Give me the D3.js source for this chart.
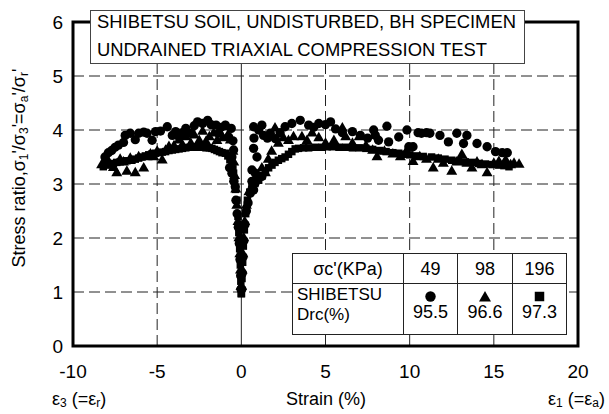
<!DOCTYPE html>
<html>
<head>
<meta charset="utf-8">
<script src="https://cdn.jsdelivr.net/npm/d3@7"></script>
<style>
  body { margin: 0; background: #fff; }
  svg { display: block; font-family: "Liberation Sans", Arial, sans-serif; }
</style>
</head>
<body>
<div id="chart"></div>
<script>
// tick values
const xTicks = [-10, -5, 0, 5, 10, 15, 20];
const yTicks = [0, 1, 2, 3, 4, 5, 6];

// legend table values
const confining = ['49', '98', '196'];
const density = ['95.5', '96.6', '97.3'];
const symbols = ['circle', 'triangle', 'square'];

// sigma_c' = 49 kPa (circles), [strain %, stress ratio]
const circle49 = [
  [-8.1,3.5],[-7.9,3.58],[-7.7,3.62],[-7.5,3.68],[-7.3,3.72],[-7.0,3.77],[-6.9,3.9],[-6.6,3.94],
  [-6.3,3.82],[-6.1,3.94],[-5.8,3.96],[-5.6,3.94],[-5.3,3.81],[-5.1,3.97],[-4.8,3.98],[-4.4,4.06],
  [-4.1,3.9],[-3.9,3.97],[-3.7,3.87],[-3.5,3.95],[-3.3,4.03],[-3.0,3.94],[-2.8,4.08],[-2.6,4.15],
  [-2.3,4.12],[-2.0,4.18],[-1.8,4.1],[-1.5,4.09],[-1.35,3.94],[-1.2,4.05],[-0.95,4.09],[-0.75,3.87],
  [-0.6,4.03],[-0.5,3.8],[-0.46,3.63],[-0.56,3.5],[-0.7,3.3],[-0.56,3.2],[-0.45,3.05],[-0.36,2.95],
  [-0.32,2.7],[-0.25,2.45],[-0.18,2.2],[-0.12,1.9],[-0.08,1.6],[-0.04,1.3],[-0.02,1.05],
  [0.03,1.05],[0.06,1.35],[0.1,1.65],[0.15,1.95],[0.22,2.25],[0.3,2.5],[0.4,2.65],[0.53,2.83],
  [0.73,2.89],[0.63,3.05],[0.63,3.26],[0.83,3.2],[1.22,3.14],[0.93,3.5],[0.73,3.66],[0.75,3.85],
  [0.73,4.06],[1.03,4.0],[1.22,4.09],[1.32,3.9],[1.55,3.85],[1.72,3.94],[2.02,3.84],[2.3,3.95],
  [2.6,4.06],[3.0,4.12],[3.5,4.18],[4.0,4.09],[4.3,4.05],[4.6,4.12],[5.0,4.1],[5.3,4.15],
  [5.6,4.02],[6.0,3.95],[6.6,3.97],[7.07,3.9],[7.5,3.85],[7.86,4.0],[7.96,3.9],[8.15,3.81],
  [8.65,4.07],[8.75,3.78],[9.35,3.87],[9.84,4.0],[9.95,3.69],[10.2,3.69],[10.5,3.95],[10.7,3.94],
  [11.0,3.95],[11.2,3.94],[11.8,3.9],[12.3,3.78],[12.8,3.94],[13.2,3.75],[13.4,3.9],[14.0,3.75],
  [14.6,3.69],[15.1,3.6],[15.5,3.58],[15.8,3.58]
];

// sigma_c' = 98 kPa (triangles)
const triangle98 = [
  [-8.3,3.35],[-8.1,3.38],[-7.9,3.42],[-7.6,3.3],[-7.4,3.2],[-7.2,3.45],[-7.0,3.4],[-6.8,3.23],
  [-6.6,3.47],[-6.3,3.2],[-6.1,3.5],[-5.8,3.29],[-5.6,3.5],[-5.4,3.55],[-5.2,3.5],[-5.0,3.6],
  [-4.7,3.44],[-4.5,3.62],[-4.3,3.69],[-4.0,3.7],[-3.7,3.81],[-3.5,3.72],[-3.3,3.87],[-3.0,3.75],
  [-2.8,3.9],[-2.5,3.8],[-2.3,3.97],[-2.1,3.78],[-1.9,3.87],[-1.65,3.94],[-1.45,3.8],[-1.25,3.94],
  [-1.1,3.85],[-0.95,4.06],[-0.8,3.9],[-0.65,3.81],[-0.5,3.6],[-0.45,3.4],[-0.4,3.15],[-0.33,2.9],
  [-0.27,2.6],[-0.2,2.3],[-0.14,2.0],[-0.09,1.7],[-0.05,1.4],[-0.02,1.1],
  [0.02,1.1],[0.05,1.4],[0.09,1.7],[0.14,2.0],[0.2,2.3],[0.3,2.6],[0.45,2.85],[0.7,3.0],
  [1.0,3.15],[1.22,3.29],[1.43,3.2],[1.6,3.45],[1.8,3.6],[2.0,4.03],[2.2,3.75],[2.5,3.85],
  [2.8,3.8],[3.1,3.87],[3.6,3.87],[3.9,3.8],[4.2,3.94],[4.6,3.85],[5.0,3.75],[5.5,3.8],
  [6.0,4.03],[6.2,3.87],[6.6,3.75],[7.0,3.87],[7.4,3.7],[7.8,3.62],[8.06,3.5],[8.5,3.6],
  [9.0,3.55],[9.45,3.5],[9.8,3.6],[10.2,3.41],[10.6,3.5],[11.0,3.45],[11.4,3.29],[11.7,3.45],
  [12.0,3.38],[12.5,3.23],[12.8,3.4],[13.1,3.54],[13.4,3.38],[13.7,3.29],[14.0,3.4],[14.3,3.35],
  [14.6,3.2],[15.0,3.38],[15.3,3.41],[15.7,3.44],[16.0,3.35],[16.2,3.38],[16.5,3.36]
];

// sigma_c' = 196 kPa (squares)
const square196 = [
  [-8.2,3.32],[-8.0,3.35],[-7.8,3.37],[-7.6,3.38],[-7.4,3.4],[-7.2,3.41],[-7.0,3.42],[-6.8,3.43],
  [-6.5,3.44],[-6.3,3.46],[-6.1,3.48],[-5.9,3.5],[-5.7,3.52],[-5.5,3.54],[-5.3,3.56],[-5.1,3.57],
  [-4.9,3.58],[-4.7,3.59],[-4.5,3.6],[-4.3,3.62],[-4.1,3.63],[-3.9,3.64],[-3.7,3.65],[-3.5,3.66],
  [-3.3,3.67],[-3.1,3.68],[-2.9,3.69],[-2.7,3.68],[-2.5,3.68],[-2.3,3.68],[-2.1,3.67],[-1.9,3.67],
  [-1.75,3.66],[-1.6,3.64],[-1.45,3.62],[-1.3,3.6],[-1.15,3.58],[-0.95,3.57],[-0.8,3.52],[-0.68,3.45],
  [-0.56,3.38],[-0.5,3.28],[-0.46,3.2],[-0.4,3.05],[-0.35,2.9],[-0.26,2.7],[-0.2,2.4],[-0.15,2.1],
  [-0.1,1.8],[-0.06,1.5],[-0.03,1.2],[-0.01,0.97],
  [0.01,0.97],[0.04,1.25],[0.08,1.55],[0.12,1.85],[0.18,2.15],[0.26,2.45],[0.36,2.7],[0.5,2.85],
  [0.63,2.95],[0.83,3.02],[1.03,3.07],[1.23,3.15],[1.43,3.23],[1.62,3.3],[1.82,3.35],[2.0,3.4],
  [2.2,3.44],[2.4,3.47],[2.6,3.5],[2.8,3.55],[3.0,3.6],[3.2,3.65],[3.4,3.66],[3.7,3.67],
  [4.0,3.67],[4.4,3.68],[4.8,3.68],[5.1,3.69],[5.4,3.69],[5.8,3.68],[6.2,3.68],[6.6,3.67],
  [7.0,3.67],[7.4,3.66],[7.8,3.64],[8.2,3.62],[8.6,3.6],[9.0,3.58],[9.35,3.57],[9.7,3.55],
  [10.0,3.54],[10.4,3.52],[10.8,3.51],[11.3,3.5],[11.7,3.48],[12.1,3.46],[12.5,3.44],[12.9,3.42],
  [13.3,3.41],[13.7,3.4],[14.1,3.38],[14.5,3.37],[14.9,3.36],[15.3,3.35],[15.6,3.34],[15.9,3.32]
];

const width = 609, height = 414;
const svg = d3.select('#chart').append('svg')
  .attr('width', width)
  .attr('height', height);

const x = d3.scaleLinear().domain([-10, 20]).range([73, 578]);
const y = d3.scaleLinear().domain([0, 6]).range([346, 22]);

// grid
svg.append('g').selectAll('line')
  .data(yTicks.filter(d => d > 0 && d < 6))
  .enter().append('line')
  .attr('x1', x(-10)).attr('x2', x(20))
  .attr('y1', d => y(d)).attr('y2', d => y(d))
  .attr('stroke', '#222').attr('stroke-width', 1)
  .attr('stroke-dasharray', '11,5');

svg.append('g').selectAll('line')
  .data(xTicks.filter(d => d > -10 && d < 20))
  .enter().append('line')
  .attr('x1', d => x(d)).attr('x2', d => x(d))
  .attr('y1', y(0)).attr('y2', y(6))
  .attr('stroke', '#222').attr('stroke-width', 1)
  .attr('stroke-dasharray', d => d === 0 ? null : '11,5');

// markers
const sym = {
  circle: d3.symbol().type(d3.symbolCircle).size(68),
  triangle: d3.symbol().type(d3.symbolTriangle).size(52),
  square: d3.symbol().type(d3.symbolSquare).size(56)
};

function plotSeries(data, type) {
  svg.append('g').selectAll('path')
    .data(data)
    .enter().append('path')
    .attr('transform', d => `translate(${x(d[0])},${y(d[1])})`)
    .attr('d', sym[type])
    .attr('fill', '#000');
}
plotSeries(square196, 'square');
plotSeries(triangle98, 'triangle');
plotSeries(circle49, 'circle');

// frame
svg.append('rect')
  .attr('x', x(-10)).attr('y', y(6))
  .attr('width', x(20) - x(-10)).attr('height', y(0) - y(6))
  .attr('fill', 'none').attr('stroke', '#000').attr('stroke-width', 3);

// tick labels
svg.append('g').selectAll('text')
  .data(yTicks)
  .enter().append('text')
  .attr('x', 63).attr('y', d => y(d) + 7)
  .attr('text-anchor', 'end')
  .attr('font-size', 19)
  .text(d => d);

svg.append('g').selectAll('text')
  .data(xTicks)
  .enter().append('text')
  .attr('x', d => x(d)).attr('y', 378)
  .attr('text-anchor', 'middle')
  .attr('font-size', 19)
  .text(d => d);

// axis titles
const yTitle = svg.append('text')
  .attr('transform', 'translate(25,168) rotate(-90)')
  .attr('text-anchor', 'middle')
  .attr('font-size', 18);
yTitle.append('tspan').text('Stress ratio,σ');
yTitle.append('tspan').attr('font-size', 12).attr('dy', 3).text('1');
yTitle.append('tspan').attr('dy', -3).text("'/σ");
yTitle.append('tspan').attr('font-size', 12).attr('dy', 3).text('3');
yTitle.append('tspan').attr('dy', -3).text("'=σ");
yTitle.append('tspan').attr('font-size', 12).attr('dy', 3).text('a');
yTitle.append('tspan').attr('dy', -3).text("'/σ");
yTitle.append('tspan').attr('font-size', 12).attr('dy', 3).text('r');
yTitle.append('tspan').attr('dy', -3).text("'");

svg.append('text')
  .attr('x', 326).attr('y', 405)
  .attr('text-anchor', 'middle')
  .attr('font-size', 18)
  .text('Strain (%)');

function epsLabel(xPos, anchor, sub1, sub2) {
  const t = svg.append('text')
    .attr('x', xPos).attr('y', 405)
    .attr('text-anchor', anchor)
    .attr('font-size', 18);
  t.append('tspan').text('ε');
  t.append('tspan').attr('font-size', 12).attr('dy', 2).text(sub1);
  t.append('tspan').attr('dy', -2).text(' (=ε');
  t.append('tspan').attr('font-size', 12).attr('dy', 2).text(sub2);
  t.append('tspan').attr('dy', -2).text(')');
}
epsLabel(52, 'start', '3', 'r');
epsLabel(605, 'end', '1', 'a');

// title box
svg.append('rect')
  .attr('x', 90.5).attr('y', 10.5)
  .attr('width', 434).attr('height', 53)
  .attr('fill', '#fff').attr('stroke', '#444').attr('stroke-width', 1);
svg.append('text').attr('x', 97).attr('y', 28).attr('font-size', 18.4)
  .text('SHIBETSU SOIL, UNDISTURBED, BH SPECIMEN');
svg.append('text').attr('x', 97).attr('y', 56).attr('font-size', 18.4)
  .text('UNDRAINED TRIAXIAL COMPRESSION TEST');

// legend table
const cols = [292.5, 403.5, 457.5, 512.5, 566.5];
const tTop = 253.5, tMid = 283.5, tBot = 334.5;
const table = svg.append('g');
table.append('rect')
  .attr('x', cols[0]).attr('y', tTop)
  .attr('width', cols[4] - cols[0]).attr('height', tBot - tTop)
  .attr('fill', '#fff').attr('stroke', '#222');
table.append('line')
  .attr('x1', cols[0]).attr('x2', cols[4])
  .attr('y1', tMid).attr('y2', tMid).attr('stroke', '#222');
table.selectAll('line.col')
  .data(cols.slice(1, 4))
  .enter().append('line')
  .attr('class', 'col')
  .attr('x1', d => d).attr('x2', d => d)
  .attr('y1', tTop).attr('y2', tBot).attr('stroke', '#222');

table.append('text')
  .attr('x', (cols[0] + cols[1]) / 2).attr('y', 275)
  .attr('text-anchor', 'middle').attr('font-size', 18)
  .text("σc'(KPa)");
table.append('text').attr('x', 297).attr('y', 299.5).attr('font-size', 17).text('SHIBETSU');
table.append('text').attr('x', 297).attr('y', 319.5).attr('font-size', 17).text('Drc(%)');

const legendSym = {
  circle: d3.symbol().type(d3.symbolCircle).size(85),
  triangle: d3.symbol().type(d3.symbolTriangle).size(62),
  square: d3.symbol().type(d3.symbolSquare).size(90)
};
confining.forEach((c, i) => {
  const cx = (cols[i + 1] + cols[i + 2]) / 2;
  table.append('text')
    .attr('x', cx).attr('y', 275)
    .attr('text-anchor', 'middle').attr('font-size', 18)
    .text(c);
  table.append('path')
    .attr('transform', `translate(${cx},${symbols[i] === 'triangle' ? 298 : 296.5})`)
    .attr('d', legendSym[symbols[i]])
    .attr('fill', '#000');
  table.append('text')
    .attr('x', cx).attr('y', 318)
    .attr('text-anchor', 'middle').attr('font-size', 18)
    .text(density[i]);
});
</script>
</body>
</html>
